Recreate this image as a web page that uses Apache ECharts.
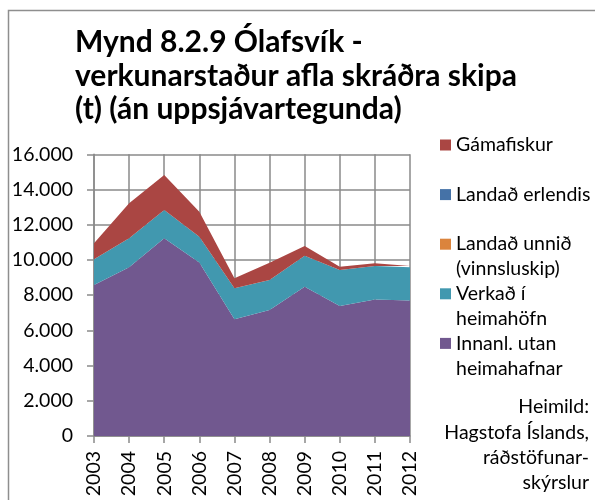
<!DOCTYPE html>
<html>
<head>
<meta charset="utf-8">
<style>
  html, body { margin: 0; padding: 0; background: #fff; }
  #chart { width: 595px; height: 500px; }
</style>
<script src="https://cdn.jsdelivr.net/npm/echarts@6/dist/echarts.min.js"></script>
</head>
<body>
<div id="chart"></div>
<script>
// Years on the category axis
const years = ['2003', '2004', '2005', '2006', '2007', '2008', '2009', '2010', '2011', '2012'];

// Catch by processing location (tonnes)
const innanlUtanHeimahafnar = [8580, 9580, 11230, 9850, 6630, 7160, 8480, 7380, 7760, 7690];
const verkadIHeimahofn      = [1460, 1650, 1610, 1470, 1760, 1700, 1760, 2050, 1900, 1890];
const landadUnnid           = [0, 0, 0, 0, 0, 0, 0, 0, 0, 0];
const landadErlendis        = [0, 0, 0, 0, 0, 0, 0, 0, 0, 0];
const gamafiskur            = [910, 1990, 1990, 1420, 570, 980, 550, 190, 150, 80];

// Value axis ticks
const yTicks = [0, 2000, 4000, 6000, 8000, 10000, 12000, 14000, 16000];

// Legend entries, split into the lines they are shown on
const legendLines = {
  'Gámafiskur': ['Gámafiskur'],
  'Landað erlendis': ['Landað erlendis'],
  'Landað unnið (vinnsluskip)': ['Landað unnið', '(vinnsluskip)'],
  'Verkað í heimahöfn': ['Verkað í', 'heimahöfn'],
  'Innanl. utan heimahafnar': ['Innanl. utan', 'heimahafnar']
};

const sourceLines = ['Heimild:', 'Hagstofa Íslands,', 'ráðstöfunar-', 'skýrslur'];

const FONT = 'Lato, "Open Sans", sans-serif';
const GRID_COLOR = '#8a8a8a';

function fmtThousands(v) {
  return String(Math.round(v)).replace(/\B(?=(\d{3})+(?!\d))/g, '.');
}

function areaSeries(name, data, color) {
  return {
    name: name,
    type: 'line',
    stack: 'total',
    data: data,
    symbol: 'none',
    lineStyle: { width: 0 },
    areaStyle: { color: color, opacity: 1 },
    itemStyle: { color: color },
    emphasis: { disabled: true }
  };
}

const chart = echarts.init(document.getElementById('chart'), null, { renderer: 'canvas' });

const legendOrder = ['Gámafiskur', 'Landað erlendis', 'Landað unnið (vinnsluskip)', 'Verkað í heimahöfn', 'Innanl. utan heimahafnar'];

// Continuation lines of the wrapped legend labels
const legendExtra = [];
legendOrder.forEach(function (name, i) {
  const lines = legendLines[name];
  for (let k = 1; k < lines.length; k++) {
    legendExtra.push({
      type: 'text',
      x: 456,
      y: 132.5 + i * 49.6 + k * 25,
      style: { text: lines[k], font: '19.5px ' + FONT, fill: '#000', lineHeight: 25, verticalAlign: 'top', textVerticalAlign: 'top' }
    });
  }
});

// Source note, right aligned, one line per element
const sourceText = sourceLines.map(function (line, i) {
  return {
    type: 'text',
    x: 589,
    y: 394.5 + i * 25.4,
    style: {
      text: line, font: '19.5px ' + FONT, fill: '#000', lineHeight: 25,
      align: 'right', textAlign: 'right', verticalAlign: 'top', textVerticalAlign: 'top'
    }
  };
});

chart.setOption({
  animation: false,
  backgroundColor: '#fff',
  title: {
    text: 'Mynd 8.2.9 Ólafsvík -\nverkunarstaður afla skráðra skipa\n(t) (án uppsjávartegunda)',
    left: 75,
    top: 26,
    padding: 0,
    textStyle: { fontFamily: FONT, fontWeight: 'bold', fontSize: 30, lineHeight: 33.5, color: '#000' }
  },
  legend: {
    orient: 'vertical',
    left: 440,
    top: 132.5,
    padding: 0,
    itemWidth: 11,
    itemHeight: 11,
    itemGap: 24.6,
    icon: 'rect',
    selectedMode: false,
    data: legendOrder,
    formatter: function (name) { return legendLines[name][0]; },
    textStyle: { fontFamily: FONT, fontSize: 19.5, lineHeight: 25, color: '#000', padding: [0, 0, 0, 0] }
  },
  grid: { left: 94, right: 185, top: 154.3, bottom: 64, containLabel: false },
  xAxis: {
    type: 'category',
    data: years,
    boundaryGap: false,
    axisLine: { lineStyle: { color: GRID_COLOR, width: 1.5 } },
    axisTick: { show: true, length: 7, interval: 0, lineStyle: { color: GRID_COLOR, width: 1.5 } },
    axisLabel: { rotate: 90, margin: 15, interval: 0, fontFamily: FONT, fontSize: 19.5, color: '#000' },
    splitLine: { show: true, interval: 0, lineStyle: { color: GRID_COLOR, width: 1.5 } }
  },
  yAxis: {
    type: 'value',
    min: yTicks[0],
    max: yTicks[yTicks.length - 1],
    interval: yTicks[1] - yTicks[0],
    axisLine: { show: true, lineStyle: { color: GRID_COLOR, width: 1.5 } },
    axisTick: { show: true, length: 7, lineStyle: { color: GRID_COLOR, width: 1.5 } },
    axisLabel: { margin: 21, fontFamily: FONT, fontSize: 19.5, color: '#000', formatter: fmtThousands },
    splitLine: { show: true, lineStyle: { color: GRID_COLOR, width: 1.5 } }
  },
  series: [
    areaSeries('Innanl. utan heimahafnar', innanlUtanHeimahafnar, '#71588F'),
    areaSeries('Verkað í heimahöfn', verkadIHeimahofn, '#4198AF'),
    areaSeries('Landað unnið (vinnsluskip)', landadUnnid, '#DB843D'),
    areaSeries('Landað erlendis', landadErlendis, '#4572A7'),
    areaSeries('Gámafiskur', gamafiskur, '#AA4643')
  ],
  graphic: [
    {
      type: 'rect',
      silent: true,
      shape: { x: 8.5, y: 10.5, width: 700, height: 700 },
      style: { fill: 'none', stroke: '#8e8e8e', lineWidth: 1.5 }
    }
  ].concat(sourceText, legendExtra)
});
</script>
</body>
</html>
